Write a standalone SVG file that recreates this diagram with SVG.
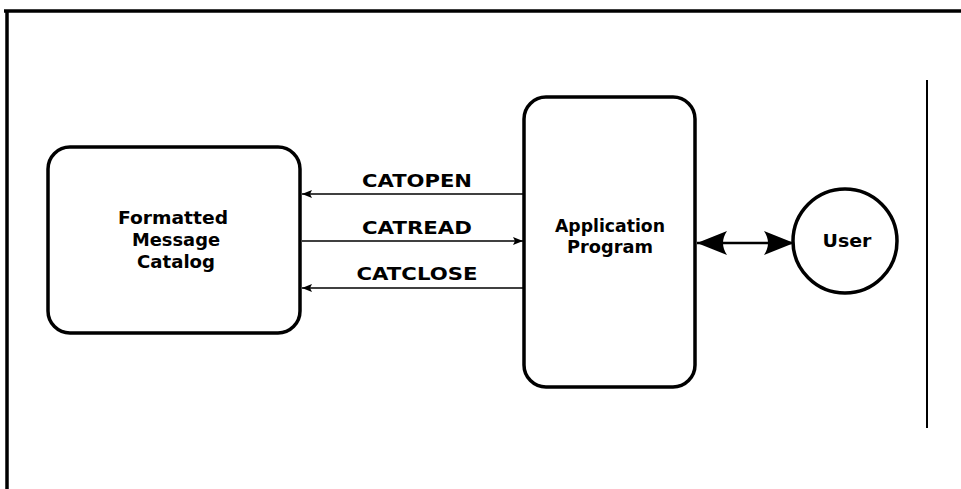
<svg xmlns="http://www.w3.org/2000/svg" width="961" height="489" viewBox="0 0 961 489">
  <style>
    .box { fill: #fff; stroke: #000; stroke-width: 3.5; }
    .frame { stroke: #000; fill: none; }
    .lbl { font-family: "DejaVu Sans", "Liberation Sans", sans-serif; font-weight: bold; font-size: 17px; fill: #000; }
    .call { stroke: #000; stroke-width: 1.6; fill: none; }
    .link { stroke: #000; stroke-width: 2.5; fill: none; }
  </style>
  <defs>
    <marker id="head" viewBox="0 0 10 8" refX="10" refY="4" markerWidth="10" markerHeight="8" markerUnits="userSpaceOnUse" orient="auto">
      <path d="M0,0 L10,4 L0,8 L2,4 Z" fill="#000"/>
    </marker>
    <marker id="bighead" viewBox="0 0 30 26" refX="30" refY="13" markerWidth="30" markerHeight="26" markerUnits="userSpaceOnUse" orient="auto-start-reverse">
      <path d="M0,1 L30,13 L0,25 Q8,13 0,1 Z" fill="#000"/>
    </marker>
  </defs>

  <rect width="961" height="489" fill="#fff"/>

  <!-- page frame -->
  <g id="frame">
    <line class="frame" x1="4" y1="11" x2="961" y2="11" stroke-width="3.5"/>
    <line class="frame" x1="7" y1="11" x2="7" y2="489" stroke-width="3.5"/>
    <line class="frame" x1="927" y1="80" x2="927" y2="428" stroke-width="2"/>
  </g>

  <!-- catalog store -->
  <g id="catalog">
    <rect class="box" x="48" y="147" width="252" height="186" rx="22" ry="22"/>
    <text class="lbl" x="173" y="224" text-anchor="middle" textLength="110" lengthAdjust="spacingAndGlyphs">Formatted</text>
    <text class="lbl" x="176" y="246" text-anchor="middle" textLength="88" lengthAdjust="spacingAndGlyphs">Message</text>
    <text class="lbl" x="176" y="268" text-anchor="middle" textLength="78" lengthAdjust="spacingAndGlyphs">Catalog</text>
  </g>

  <!-- program -->
  <g id="application">
    <rect class="box" x="524" y="97" width="171" height="290" rx="22" ry="22"/>
    <text class="lbl" x="610" y="232" text-anchor="middle" textLength="110" lengthAdjust="spacingAndGlyphs">Application</text>
    <text class="lbl" x="610" y="253" text-anchor="middle" textLength="86" lengthAdjust="spacingAndGlyphs">Program</text>
  </g>

  <!-- user -->
  <g id="user">
    <circle cx="845" cy="241" r="52" fill="#fff" stroke="#000" stroke-width="3.5"/>
    <text class="lbl" x="847" y="247" text-anchor="middle" textLength="49" lengthAdjust="spacingAndGlyphs">User</text>
  </g>

  <!-- calls between program and catalog -->
  <g id="connectors">
    <line class="call" x1="524" y1="194" x2="302" y2="194" marker-end="url(#head)"/>
    <text class="lbl" x="417" y="187" text-anchor="middle" textLength="110" lengthAdjust="spacingAndGlyphs">CATOPEN</text>

    <line class="call" x1="302" y1="241" x2="523" y2="241" marker-end="url(#head)"/>
    <text class="lbl" x="417" y="234" text-anchor="middle" textLength="110" lengthAdjust="spacingAndGlyphs">CATREAD</text>

    <line class="call" x1="524" y1="288" x2="302" y2="288" marker-end="url(#head)"/>
    <text class="lbl" x="417" y="280" text-anchor="middle" textLength="121" lengthAdjust="spacingAndGlyphs">CATCLOSE</text>

    <line class="link" x1="697" y1="243" x2="794" y2="243" marker-start="url(#bighead)" marker-end="url(#bighead)"/>
  </g>
</svg>
